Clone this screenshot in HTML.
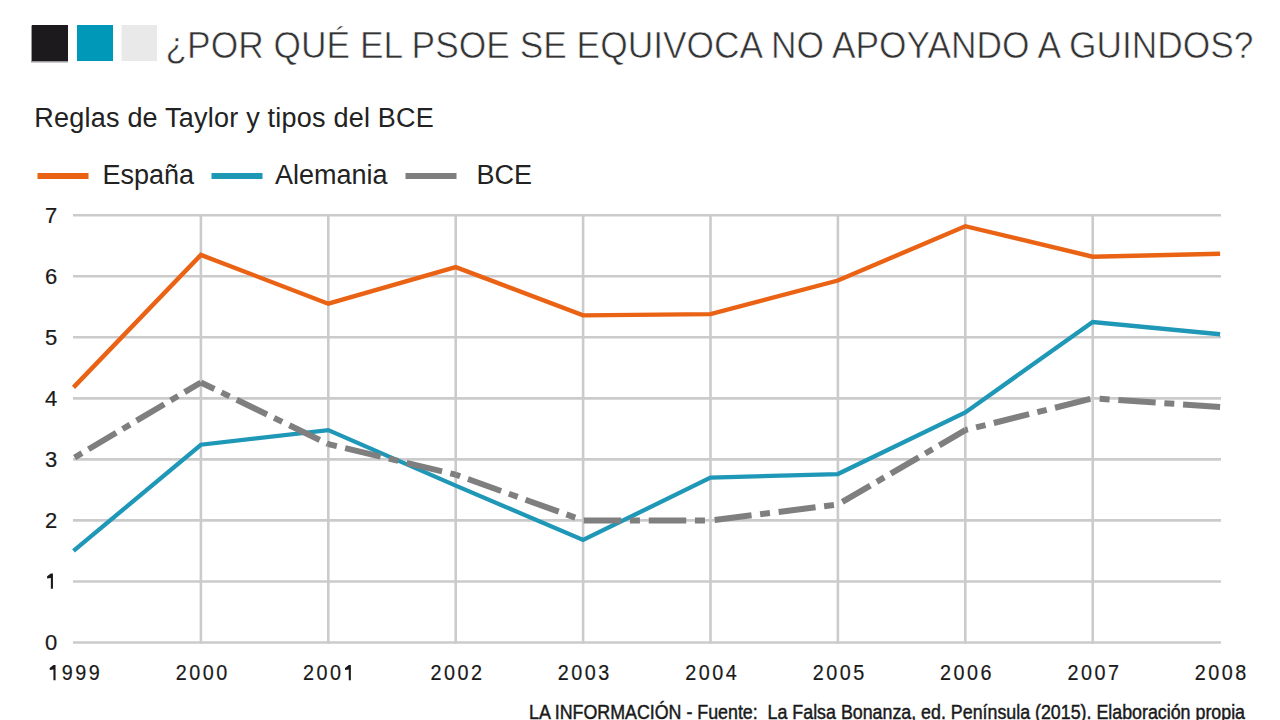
<!DOCTYPE html>
<html><head><meta charset="utf-8">
<style>
html,body{margin:0;padding:0;background:#fff;}
body{width:1280px;height:720px;overflow:hidden;position:relative;}
svg{position:absolute;left:0;top:0;font-family:'Liberation Sans', sans-serif;}
</style></head><body>
<svg width="1280" height="720" viewBox="0 0 1280 720">
<rect x="31" y="25.5" width="37" height="37" fill="#9a9a9a"/>
<rect x="32" y="25" width="36" height="36" fill="#1c1a1d"/>
<rect x="77" y="25" width="36" height="36" fill="#0098b8"/>
<rect x="121.5" y="25" width="35.5" height="36" fill="#e9e9e9"/>
<text x="165.5" y="58" font-size="36" fill="#333333" stroke="#ffffff" stroke-width="0.6" textLength="1088" lengthAdjust="spacingAndGlyphs">¿POR QUÉ EL PSOE SE EQUIVOCA NO APOYANDO A GUINDOS?</text>
<text x="34.3" y="126.5" font-size="27" fill="#222222" textLength="399.5" lengthAdjust="spacing">Reglas de Taylor y tipos del BCE</text>
<rect x="37.5" y="173" width="51" height="6" fill="#ea6214"/>
<text x="102.5" y="183.5" font-size="27" fill="#222222">España</text>
<rect x="211.5" y="173" width="51" height="6" fill="#1f97b7"/>
<text x="275" y="183.5" font-size="27" fill="#222222">Alemania</text>
<rect x="405.5" y="173" width="51" height="6" fill="#7f7f7f"/>
<text x="476.5" y="183.5" font-size="27" fill="#222222">BCE</text>
<line x1="73" y1="642.50" x2="1221" y2="642.50" stroke="#cbcbcb" stroke-width="2.6"/>
<line x1="73" y1="581.46" x2="1221" y2="581.46" stroke="#cbcbcb" stroke-width="2.6"/>
<line x1="73" y1="520.42" x2="1221" y2="520.42" stroke="#cbcbcb" stroke-width="2.6"/>
<line x1="73" y1="459.38" x2="1221" y2="459.38" stroke="#cbcbcb" stroke-width="2.6"/>
<line x1="73" y1="398.34" x2="1221" y2="398.34" stroke="#cbcbcb" stroke-width="2.6"/>
<line x1="73" y1="337.30" x2="1221" y2="337.30" stroke="#cbcbcb" stroke-width="2.6"/>
<line x1="73" y1="276.26" x2="1221" y2="276.26" stroke="#cbcbcb" stroke-width="2.6"/>
<line x1="73" y1="215.22" x2="1221" y2="215.22" stroke="#cbcbcb" stroke-width="2.6"/>
<line x1="200.90" y1="213.92" x2="200.90" y2="643.80" stroke="#cbcbcb" stroke-width="2.6"/>
<line x1="328.30" y1="213.92" x2="328.30" y2="643.80" stroke="#cbcbcb" stroke-width="2.6"/>
<line x1="455.70" y1="213.92" x2="455.70" y2="643.80" stroke="#cbcbcb" stroke-width="2.6"/>
<line x1="583.10" y1="213.92" x2="583.10" y2="643.80" stroke="#cbcbcb" stroke-width="2.6"/>
<line x1="710.50" y1="213.92" x2="710.50" y2="643.80" stroke="#cbcbcb" stroke-width="2.6"/>
<line x1="837.90" y1="213.92" x2="837.90" y2="643.80" stroke="#cbcbcb" stroke-width="2.6"/>
<line x1="965.30" y1="213.92" x2="965.30" y2="643.80" stroke="#cbcbcb" stroke-width="2.6"/>
<line x1="1092.70" y1="213.92" x2="1092.70" y2="643.80" stroke="#cbcbcb" stroke-width="2.6"/>
<text x="51" y="650.30" text-anchor="middle" font-size="22" fill="#1a1a1a" stroke="#1a1a1a" stroke-width="0.2">0</text>
<polygon fill="#1a1a1a" points="50.85,573.56 52.95,573.56 52.95,588.86 50.85,588.86 50.85,577.96 47.10,578.56 47.10,576.36"/>
<text x="51" y="528.22" text-anchor="middle" font-size="22" fill="#1a1a1a" stroke="#1a1a1a" stroke-width="0.2">2</text>
<text x="51" y="467.18" text-anchor="middle" font-size="22" fill="#1a1a1a" stroke="#1a1a1a" stroke-width="0.2">3</text>
<text x="51" y="406.14" text-anchor="middle" font-size="22" fill="#1a1a1a" stroke="#1a1a1a" stroke-width="0.2">4</text>
<text x="51" y="345.10" text-anchor="middle" font-size="22" fill="#1a1a1a" stroke="#1a1a1a" stroke-width="0.2">5</text>
<text x="51" y="284.06" text-anchor="middle" font-size="22" fill="#1a1a1a" stroke="#1a1a1a" stroke-width="0.2">6</text>
<text x="51" y="223.02" text-anchor="middle" font-size="22" fill="#1a1a1a" stroke="#1a1a1a" stroke-width="0.2">7</text>
<polygon fill="#1a1a1a" points="53.45,665.10 55.55,665.10 55.55,680.30 53.45,680.30 53.45,669.50 49.70,670.10 49.70,667.90"/>
<text transform="translate(67.25,680.3) scale(0.9,1)" text-anchor="middle" font-size="22" fill="#1a1a1a" stroke="#1a1a1a" stroke-width="0.2">9</text>
<text transform="translate(80.75,680.3) scale(0.9,1)" text-anchor="middle" font-size="22" fill="#1a1a1a" stroke="#1a1a1a" stroke-width="0.2">9</text>
<text transform="translate(94.25,680.3) scale(0.9,1)" text-anchor="middle" font-size="22" fill="#1a1a1a" stroke="#1a1a1a" stroke-width="0.2">9</text>
<text transform="translate(181.15,680.3) scale(0.9,1)" text-anchor="middle" font-size="22" fill="#1a1a1a" stroke="#1a1a1a" stroke-width="0.2">2</text>
<text transform="translate(194.65,680.3) scale(0.9,1)" text-anchor="middle" font-size="22" fill="#1a1a1a" stroke="#1a1a1a" stroke-width="0.2">0</text>
<text transform="translate(208.15,680.3) scale(0.9,1)" text-anchor="middle" font-size="22" fill="#1a1a1a" stroke="#1a1a1a" stroke-width="0.2">0</text>
<text transform="translate(221.65,680.3) scale(0.9,1)" text-anchor="middle" font-size="22" fill="#1a1a1a" stroke="#1a1a1a" stroke-width="0.2">0</text>
<text transform="translate(308.55,680.3) scale(0.9,1)" text-anchor="middle" font-size="22" fill="#1a1a1a" stroke="#1a1a1a" stroke-width="0.2">2</text>
<text transform="translate(322.05,680.3) scale(0.9,1)" text-anchor="middle" font-size="22" fill="#1a1a1a" stroke="#1a1a1a" stroke-width="0.2">0</text>
<text transform="translate(335.55,680.3) scale(0.9,1)" text-anchor="middle" font-size="22" fill="#1a1a1a" stroke="#1a1a1a" stroke-width="0.2">0</text>
<polygon fill="#1a1a1a" points="348.75,665.10 350.85,665.10 350.85,680.30 348.75,680.30 348.75,669.50 345.00,670.10 345.00,667.90"/>
<text transform="translate(435.95,680.3) scale(0.9,1)" text-anchor="middle" font-size="22" fill="#1a1a1a" stroke="#1a1a1a" stroke-width="0.2">2</text>
<text transform="translate(449.45,680.3) scale(0.9,1)" text-anchor="middle" font-size="22" fill="#1a1a1a" stroke="#1a1a1a" stroke-width="0.2">0</text>
<text transform="translate(462.95,680.3) scale(0.9,1)" text-anchor="middle" font-size="22" fill="#1a1a1a" stroke="#1a1a1a" stroke-width="0.2">0</text>
<text transform="translate(476.45,680.3) scale(0.9,1)" text-anchor="middle" font-size="22" fill="#1a1a1a" stroke="#1a1a1a" stroke-width="0.2">2</text>
<text transform="translate(563.35,680.3) scale(0.9,1)" text-anchor="middle" font-size="22" fill="#1a1a1a" stroke="#1a1a1a" stroke-width="0.2">2</text>
<text transform="translate(576.85,680.3) scale(0.9,1)" text-anchor="middle" font-size="22" fill="#1a1a1a" stroke="#1a1a1a" stroke-width="0.2">0</text>
<text transform="translate(590.35,680.3) scale(0.9,1)" text-anchor="middle" font-size="22" fill="#1a1a1a" stroke="#1a1a1a" stroke-width="0.2">0</text>
<text transform="translate(603.85,680.3) scale(0.9,1)" text-anchor="middle" font-size="22" fill="#1a1a1a" stroke="#1a1a1a" stroke-width="0.2">3</text>
<text transform="translate(690.75,680.3) scale(0.9,1)" text-anchor="middle" font-size="22" fill="#1a1a1a" stroke="#1a1a1a" stroke-width="0.2">2</text>
<text transform="translate(704.25,680.3) scale(0.9,1)" text-anchor="middle" font-size="22" fill="#1a1a1a" stroke="#1a1a1a" stroke-width="0.2">0</text>
<text transform="translate(717.75,680.3) scale(0.9,1)" text-anchor="middle" font-size="22" fill="#1a1a1a" stroke="#1a1a1a" stroke-width="0.2">0</text>
<text transform="translate(731.25,680.3) scale(0.9,1)" text-anchor="middle" font-size="22" fill="#1a1a1a" stroke="#1a1a1a" stroke-width="0.2">4</text>
<text transform="translate(818.15,680.3) scale(0.9,1)" text-anchor="middle" font-size="22" fill="#1a1a1a" stroke="#1a1a1a" stroke-width="0.2">2</text>
<text transform="translate(831.65,680.3) scale(0.9,1)" text-anchor="middle" font-size="22" fill="#1a1a1a" stroke="#1a1a1a" stroke-width="0.2">0</text>
<text transform="translate(845.15,680.3) scale(0.9,1)" text-anchor="middle" font-size="22" fill="#1a1a1a" stroke="#1a1a1a" stroke-width="0.2">0</text>
<text transform="translate(858.65,680.3) scale(0.9,1)" text-anchor="middle" font-size="22" fill="#1a1a1a" stroke="#1a1a1a" stroke-width="0.2">5</text>
<text transform="translate(945.55,680.3) scale(0.9,1)" text-anchor="middle" font-size="22" fill="#1a1a1a" stroke="#1a1a1a" stroke-width="0.2">2</text>
<text transform="translate(959.05,680.3) scale(0.9,1)" text-anchor="middle" font-size="22" fill="#1a1a1a" stroke="#1a1a1a" stroke-width="0.2">0</text>
<text transform="translate(972.55,680.3) scale(0.9,1)" text-anchor="middle" font-size="22" fill="#1a1a1a" stroke="#1a1a1a" stroke-width="0.2">0</text>
<text transform="translate(986.05,680.3) scale(0.9,1)" text-anchor="middle" font-size="22" fill="#1a1a1a" stroke="#1a1a1a" stroke-width="0.2">6</text>
<text transform="translate(1072.95,680.3) scale(0.9,1)" text-anchor="middle" font-size="22" fill="#1a1a1a" stroke="#1a1a1a" stroke-width="0.2">2</text>
<text transform="translate(1086.45,680.3) scale(0.9,1)" text-anchor="middle" font-size="22" fill="#1a1a1a" stroke="#1a1a1a" stroke-width="0.2">0</text>
<text transform="translate(1099.95,680.3) scale(0.9,1)" text-anchor="middle" font-size="22" fill="#1a1a1a" stroke="#1a1a1a" stroke-width="0.2">0</text>
<text transform="translate(1113.45,680.3) scale(0.9,1)" text-anchor="middle" font-size="22" fill="#1a1a1a" stroke="#1a1a1a" stroke-width="0.2">7</text>
<text transform="translate(1200.35,680.3) scale(0.9,1)" text-anchor="middle" font-size="22" fill="#1a1a1a" stroke="#1a1a1a" stroke-width="0.2">2</text>
<text transform="translate(1213.85,680.3) scale(0.9,1)" text-anchor="middle" font-size="22" fill="#1a1a1a" stroke="#1a1a1a" stroke-width="0.2">0</text>
<text transform="translate(1227.35,680.3) scale(0.9,1)" text-anchor="middle" font-size="22" fill="#1a1a1a" stroke="#1a1a1a" stroke-width="0.2">0</text>
<text transform="translate(1240.85,680.3) scale(0.9,1)" text-anchor="middle" font-size="22" fill="#1a1a1a" stroke="#1a1a1a" stroke-width="0.2">8</text>
<polyline points="73.50,550.94 200.90,444.73 328.30,430.08 455.70,485.63 583.10,539.95 710.50,477.69 837.90,474.03 965.30,412.38 1092.70,322.04 1220.10,334.25" fill="none" stroke="#1f97b7" stroke-width="4.3" stroke-linejoin="miter"/>
<line x1="73.50" y1="458.16" x2="200.90" y2="382.47" stroke="#7f7f7f" stroke-width="6" stroke-dasharray="32.24 7.48 8.60 7.57" stroke-dashoffset="38.43"/>
<line x1="200.90" y1="382.47" x2="328.30" y2="444.12" stroke="#7f7f7f" stroke-width="6" stroke-dasharray="33.76 7.83 9.00 7.92" stroke-dashoffset="18.75"/>
<line x1="328.30" y1="444.12" x2="455.70" y2="474.64" stroke="#7f7f7f" stroke-width="6" stroke-dasharray="36.47 8.46 9.72 8.56" stroke-dashoffset="45.89"/>
<line x1="455.70" y1="474.64" x2="583.10" y2="520.42" stroke="#7f7f7f" stroke-width="6" stroke-dasharray="35.29 8.19 9.41 8.28" stroke-dashoffset="48.17"/>
<line x1="583.10" y1="520.42" x2="710.50" y2="520.42" stroke="#7f7f7f" stroke-width="6" stroke-dasharray="37.50 8.70 10.00 8.80" stroke-dashoffset="64.36"/>
<line x1="710.50" y1="520.42" x2="837.90" y2="504.55" stroke="#7f7f7f" stroke-width="6" stroke-dasharray="37.21 8.63 9.92 8.73" stroke-dashoffset="60.33"/>
<line x1="837.90" y1="504.55" x2="965.30" y2="430.08" stroke="#7f7f7f" stroke-width="6" stroke-dasharray="32.37 7.51 8.63 7.60" stroke-dashoffset="50.94"/>
<line x1="965.30" y1="430.08" x2="1092.70" y2="398.34" stroke="#7f7f7f" stroke-width="6" stroke-dasharray="36.39 8.44 9.70 8.54" stroke-dashoffset="33.70"/>
<line x1="1092.70" y1="398.34" x2="1220.10" y2="406.89" stroke="#7f7f7f" stroke-width="6" stroke-dasharray="37.42 8.68 9.98 8.78" stroke-dashoffset="39.16"/>
<polyline points="73.50,387.35 200.90,254.90 328.30,303.73 455.70,267.10 583.10,315.33 710.50,314.10 837.90,280.53 965.30,226.21 1092.70,256.73 1220.10,253.68" fill="none" stroke="#ea6214" stroke-width="4.4" stroke-linejoin="miter"/>
<text x="529" y="718.5" font-size="19.5" fill="#1a1a1a" stroke="#1a1a1a" stroke-width="0.45" textLength="716" lengthAdjust="spacingAndGlyphs" xml:space="preserve">LA INFORMACIÓN - Fuente:  La Falsa Bonanza, ed. Península (2015). Elaboración propia</text>
</svg>
</body></html>
